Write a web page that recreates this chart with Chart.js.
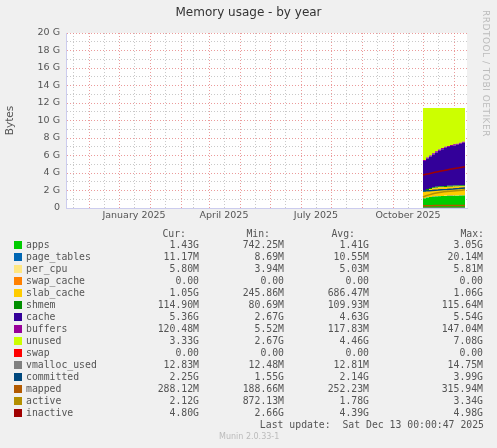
<!DOCTYPE html>
<html><head><meta charset="utf-8">
<script src="https://cdn.jsdelivr.net/npm/chart.js@4/dist/chart.umd.min.js"></script>
<style>
body{margin:0;background:#F0F0F0;width:497px;height:448px;overflow:hidden;position:relative;font-family:"DejaVu Sans",sans-serif}
#c{position:absolute;left:0;top:0}
.t{position:absolute;white-space:pre;color:#555}
.m{font-family:"DejaVu Sans Mono",monospace;font-size:9.8px;color:#555}
.sw{position:absolute;width:8px;height:8px}
</style></head><body>
<canvas id="c" width="497" height="448"></canvas>
<div class="t" style="left:0;width:497px;text-align:center;top:5px;font-size:12px;color:#333">Memory usage - by year</div>
<div class="t" style="left:481px;top:10px;font-size:9px;color:#bbb;writing-mode:vertical-rl;letter-spacing:0.5px">RRDTOOL / TOBI OETIKER</div>
<div id="leg"></div>
<div class="t m" style="right:13px;top:419px">Last update:  Sat Dec 13 00:00:47 2025</div>
<div class="t" style="left:219px;top:432px;font-size:8px;color:#bbb">Munin 2.0.33-1</div>
<script>
// days relative to 2025-01-01
const days = [273,276,279,282,285,288,291,294,297,300,303,306,309,312,315];
const apps = [1.1,1.2,1.25,1.3,1.32,1.35,1.36,1.37,1.38,1.38,1.4,1.4,1.41,1.42,1.43];
const page_tables = [0.011,0.011,0.011,0.011,0.011,0.011,0.011,0.011,0.011,0.011,0.011,0.011,0.011,0.011,0.011];
const per_cpu = [0.006,0.006,0.006,0.006,0.006,0.006,0.006,0.006,0.006,0.006,0.006,0.006,0.006,0.006,0.006];
const swap_cache = [0,0,0,0,0,0,0,0,0,0,0,0,0,0,0];
const slab_cache = [0.75,0.85,0.9,0.95,0.98,1.0,1.0,1.02,1.03,1.03,1.04,1.04,1.05,1.05,1.05];
const shmem = [0.11,0.11,0.11,0.11,0.11,0.11,0.11,0.11,0.11,0.11,0.11,0.11,0.11,0.115,0.115];
const cache = [3.39,3.48,3.60,3.75,3.93,4.08,4.24,4.36,4.44,4.54,4.59,4.67,4.75,4.86,5.12];
const buffers = [0.12,0.12,0.12,0.12,0.12,0.12,0.12,0.12,0.12,0.12,0.12,0.12,0.12,0.12,0.12];
const unused = [5.94,5.65,5.43,5.18,4.95,4.75,4.58,4.43,4.33,4.23,4.15,4.07,3.97,3.85,3.58];
const swap = [0,0,0,0,0,0,0,0,0,0,0,0,0,0,0];
const vmalloc_used = [0.013,0.013,0.013,0.013,0.013,0.013,0.013,0.013,0.013,0.013,0.013,0.013,0.013,0.013,0.013];
const committed = [1.94,1.96,1.98,2.0,2.03,2.05,2.08,2.1,2.12,2.15,2.17,2.2,2.22,2.25,2.28];
const mapped = [0.26,0.27,0.27,0.27,0.28,0.28,0.28,0.28,0.28,0.29,0.29,0.29,0.29,0.29,0.29];
const active = [1.26,1.4,1.5,1.6,1.68,1.74,1.8,1.85,1.88,1.92,1.95,1.98,2.0,2.03,2.08];
const inactive = [3.77,3.85,3.92,4.0,4.08,4.15,4.22,4.28,4.35,4.42,4.48,4.55,4.6,4.66,4.72];
const monthStarts = [-61,-31,0,31,59,90,120,151,181,212,243,273,304];
const midMonths = [-77,-46,-16,15,43,74,105,135,166,196,227,258,288];
const monthLabels = {"-16":"January 2025","74":"April 2025","166":"July 2025","258":"October 2025"};
const yTicks = [0,1,2,3,4,5,6,7,8,9,10,11,12,13,14,15,16,17,18,19,20];
const legendRows = [
 ["apps","#00CC00","1.43G","742.25M","1.41G","3.05G"],
 ["page_tables","#0066B3","11.17M","8.69M","10.55M","20.14M"],
 ["per_cpu","#FFE680","5.80M","3.94M","5.03M","5.81M"],
 ["swap_cache","#FF8000","0.00","0.00","0.00","0.00"],
 ["slab_cache","#FFCC00","1.05G","245.86M","686.47M","1.06G"],
 ["shmem","#008F00","114.90M","80.69M","109.93M","115.64M"],
 ["cache","#330099","5.36G","2.67G","4.63G","5.54G"],
 ["buffers","#990099","120.48M","5.52M","117.83M","147.04M"],
 ["unused","#CCFF00","3.33G","2.67G","4.46G","7.08G"],
 ["swap","#FF0000","0.00","0.00","0.00","0.00"],
 ["vmalloc_used","#808080","12.83M","12.48M","12.81M","14.75M"],
 ["committed","#00487D","2.25G","1.55G","2.14G","3.99G"],
 ["mapped","#B35A00","288.12M","188.66M","252.23M","315.94M"],
 ["active","#B38F00","2.12G","872.13M","1.78G","3.34G"],
 ["inactive","#A00000","4.80G","2.66G","4.39G","4.98G"]
];
let h='<div class="t m" style="right:311px;top:228px">Cur:</div><div class="t m" style="right:227px;top:228px">Min:</div><div class="t m" style="right:142px;top:228px">Avg:</div><div class="t m" style="right:13px;top:228px">Max:</div>';
legendRows.forEach((r,i)=>{const y=240+i*12;
 h+=`<div class="sw" style="left:14px;top:${y+1}px;background:${r[1]}"></div><div class="t m" style="left:26px;top:${y-1}px">${r[0]}</div>`+
 `<div class="t m" style="right:298px;top:${y-1}px">${r[2]}</div><div class="t m" style="right:213px;top:${y-1}px">${r[3]}</div><div class="t m" style="right:128px;top:${y-1}px">${r[4]}</div><div class="t m" style="right:14px;top:${y-1}px">${r[5]}</div>`;});
document.getElementById('leg').innerHTML=h;

const areaSeries=[["apps",apps],["page_tables",page_tables],["per_cpu",per_cpu],["swap_cache",swap_cache],["slab_cache",slab_cache],["shmem",shmem],["cache",cache],["buffers",buffers],["unused",unused],["swap",swap]];
const lineSeries=[["vmalloc_used",vmalloc_used],["committed",committed],["mapped",mapped],["active",active],["inactive",inactive]];
const col=n=>legendRows.find(r=>r[0]===n)[1];
const pts=a=>a.map((v,i)=>({x:days[i],y:v}));
const datasets=[];
areaSeries.forEach(([n,a],i)=>datasets.push({label:n,data:pts(a),stack:'s',order:1,backgroundColor:col(n),borderWidth:0,pointRadius:0,fill:i===0?'origin':'-1',stepped:true}));
lineSeries.forEach(([n,a])=>datasets.push({label:n,data:pts(a),stack:n,order:0,borderColor:col(n),borderWidth:1.5,pointRadius:0,fill:false}));

const bg={id:'bg',beforeDraw(c){const a=c.chartArea,x=c.ctx;x.save();x.fillStyle='#fff';x.fillRect(a.left,a.top,a.right-a.left,a.bottom-a.top);x.restore();}};
new Chart(document.getElementById('c'),{type:'line',data:{datasets},plugins:[bg],
options:{responsive:false,animation:false,
 layout:{padding:{left:4,right:30,top:33,bottom:220}},
 plugins:{legend:{display:false},tooltip:{enabled:false}},
 scales:{
  x:{type:'linear',min:-84,max:317,
   afterBuildTicks(s){s.ticks=[...monthStarts,...midMonths].sort((a,b)=>a-b).map(v=>({value:v}));},
   afterFit(s){s.height=20;},
   ticks:{autoSkip:false,maxRotation:0,font:{family:'DejaVu Sans',size:9.5},color:'#555',padding:2,callback:v=>monthLabels[String(v)]||''},
   grid:{color:c=>monthStarts.includes(c.tick&&c.tick.value)?'rgba(230,130,130,0.8)':'rgba(195,195,195,0.9)',lineWidth:1,drawTicks:false},
   border:{dash:[1,2],color:'#ccccee'}},
  y:{stacked:true,min:0,max:20,
   afterBuildTicks(s){s.ticks=yTicks.map(v=>({value:v}));},
   afterFit(s){s.width=62;},
   title:{display:true,text:'Bytes',font:{family:'DejaVu Sans',size:10.5},color:'#555',padding:0},
   ticks:{autoSkip:false,font:{family:'DejaVu Sans',size:9.5},color:'#555',padding:6,callback:v=>v%2?'':(v===0?'0':v+' G')},
   grid:{color:c=>(c.tick&&c.tick.value%2===0)?'rgba(230,130,130,0.8)':'rgba(195,195,195,0.9)',lineWidth:1,drawTicks:false},
   border:{dash:[1,2],color:'#ccccee'}}
 }}});
</script></body></html>
